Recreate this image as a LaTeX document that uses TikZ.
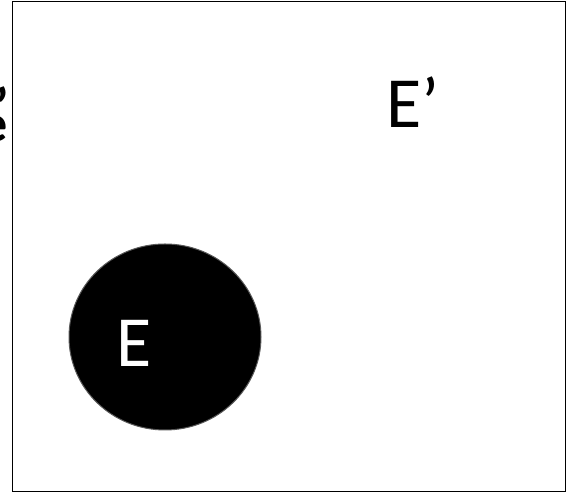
\documentclass[tikz,border=0pt]{standalone}
\usepackage{fontspec}
\setmainfont{Carlito}
\usetikzlibrary{shapes.geometric}
\begin{document}
\begin{tikzpicture}[x=1pt,y=1pt,
  frame/.style={draw=black,line width=1.3pt},
  blob/.style={draw=black!65,fill=black,line width=1pt},
  bigtext/.style={font=\fontsize{72}{72}\selectfont,inner sep=0pt}]
\useasboundingbox (0,0) rectangle (566,494);
\node[frame,minimum width=553pt,minimum height=490pt,inner sep=0pt,anchor=south west] (frame) at (12,2) {};
\node[blob,ellipse,minimum width=192pt,minimum height=186pt,inner sep=0pt] (E) at (165,157) {};
\node[bigtext,text=white] (Elabel) at (134,151) {E};
\node[bigtext,text=black] (Eprime) at (413,392) {E’};
\node[font=\fontsize{52}{52}\selectfont\bfseries,inner sep=0pt,anchor=base east] (cute) at (8,352) {e};
\node[font=\fontsize{52}{52}\selectfont\bfseries,inner sep=0pt,anchor=north east] (cutq) at (9,408) {’};
\end{tikzpicture}
\end{document}
